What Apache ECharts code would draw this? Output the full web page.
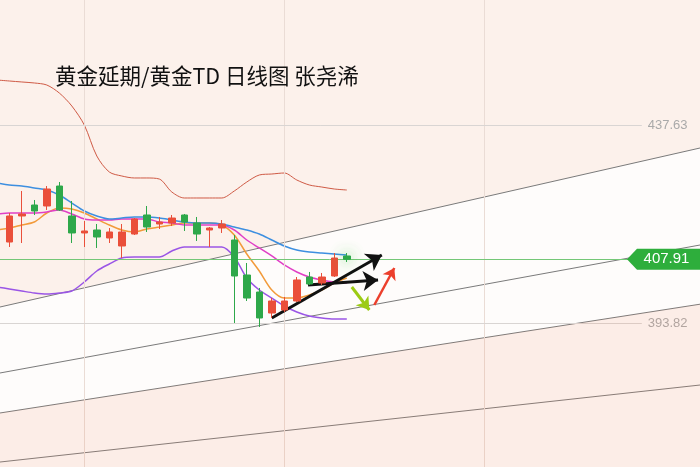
<!DOCTYPE html>
<html><head><meta charset="utf-8">
<script src="https://cdn.jsdelivr.net/npm/echarts@6/dist/echarts.min.js"></script>
<style>html,body{margin:0;padding:0;background:#fefcfb}#c{width:700px;height:467px}</style>
</head><body><div id="c"></div>
<script>
// ---- data ----
const titleText = '黄金延期/黄金TD 日线图 张尧浠';
const yMin = 361.96, yMax = 465.29;
const xMin = -0.744, xMax = 55.256;
const gridPrices = [437.63, 393.82];
const gridXs = [6, 22, 38];
const lastPrice = 407.91;
// candles: [open, close, low, high], index 0..27
const opens  = [411.74,417.50,419.93,419.71,424.13,417.50,413.74,414.40,412.63,410.86,413.51,417.72,415.73,415.95,417.72,415.95,414.40,414.84,412.19,404.44,400.68,396.03,396.70,398.69,404.00,402.67,404.22,408.65];
const closes = [417.50,417.94,418.60,423.47,418.83,413.74,414.18,412.85,413.96,413.96,416.83,415.06,416.17,417.05,416.17,413.51,414.84,415.73,404.22,399.35,394.93,398.69,398.69,403.34,402.45,404.00,408.20,407.91];
const lows   = [410.64,411.52,417.72,418.83,418.60,411.52,410.64,410.42,411.52,408.20,413.29,413.96,414.62,415.28,414.18,411.97,410.64,413.74,393.82,398.69,392.94,394.93,396.26,398.47,402.23,402.23,404.00,407.32];
const highs  = [418.16,423.03,421.04,424.13,425.02,420.82,416.39,415.73,414.84,415.73,417.05,419.71,417.28,417.72,417.94,417.28,415.06,416.61,413.29,407.10,401.57,399.35,399.58,404.00,405.11,404.89,409.31,409.31];
// indicator lines, index -1..27
const blueLine    = [424.80,424.36,424.13,423.69,423.25,422.14,420.37,418.60,417.50,416.83,417.05,417.28,417.28,417.05,416.61,416.17,415.95,415.95,415.73,415.06,414.40,413.51,412.19,410.86,409.97,409.53,409.31,409.09,408.87];
const magentaLine = [417.94,418.16,418.16,418.16,418.38,418.83,417.94,416.83,416.61,416.61,416.83,416.83,416.83,416.17,415.95,415.51,415.51,415.51,415.51,414.40,412.19,410.42,408.65,406.66,405.11,404.00,403.34,402.89,402.67];
const orangeLine  = [414.40,414.84,415.51,416.17,418.16,419.27,419.05,418.16,416.83,415.51,414.40,413.96,414.62,415.06,415.51,415.95,415.95,415.95,415.51,413.29,409.09,405.33,401.12,399.35,399.35,400.02,401.12,402.67,403.78];
const purpleLine  = [401.79,401.35,400.90,400.46,400.24,400.46,400.90,402.89,405.33,406.88,408.20,408.43,408.43,408.43,409.75,410.64,410.64,410.64,410.64,408.43,403.78,401.12,399.35,397.58,396.26,395.37,394.93,394.71,394.71];
const upperLine   = [447.59,447.37,447.15,446.93,446.48,444.71,441.84,437.63,430.77,427.23,426.35,425.91,425.91,425.68,422.81,421.48,421.48,421.48,421.48,423.03,425.02,426.57,426.79,427.01,425.46,424.36,423.91,423.47,423.25];
// channel lines: value at x = xMin and x = xMax
const channelX = [xMin, xMax];
const chan1 = [397.36, 432.54];
const chan2 = [382.76, 411.08];
const chan3 = [373.91, 397.98];
const chan4 = [363.06, 380.10];
// arrows: [x0, y0, x1, y1]
const arrowUp    = [21.0, 394.93, 29.8, 408.87];
const arrowSide  = [23.9, 402.23, 29.5, 403.34];
const arrowDown  = [27.4, 401.79, 28.8, 396.70];
const arrowRed   = [29.2, 397.80, 30.8, 405.99];

// ---- build ----
const UP = '#ea4f3a', DOWN = '#2ea84a';
const TINT = '#fcf1eb';
const candleData = opens.map((o, i) => {
  const item = { value: [i, o, closes[i], lows[i], highs[i]] };
  if (i === opens.length - 1) item.itemStyle = { shadowBlur: 14, shadowColor: 'rgba(60,200,60,0.8)' };
  return item;
});
const lineData = arr => arr.map((v, k) => [k - 1, v]);
const mkLine = (arr, color, w) => ({
  type: 'line', data: lineData(arr), symbol: 'none', smooth: 0.3, silent: true,
  lineStyle: { color, width: w }, z: 3
});
const chanSeries = (arr) => ({
  type: 'line', data: channelX.map((x, k) => [x, arr[k]]), symbol: 'none', silent: true,
  lineStyle: { color: '#7a7a7a', width: 1 }, z: 2
});
const arrowML = (a, color, w, size) => [
  { coord: [a[0], a[1]], lineStyle: { color, width: w, type: 'solid' }, symbol: 'none' },
  { coord: [a[2], a[3]], symbol: 'arrow', symbolSize: size }
];

const chart = echarts.init(document.getElementById('c'));
chart.setOption({
  animation: false,
  backgroundColor: '#fefcfb',
  title: { text: titleText, left: 50, top: 60, z: 10,
    textStyle: { fontFamily: 'Noto Sans CJK SC', fontSize: 21.5, fontWeight: 'normal', color: '#111' } },
  grid: { left: 0, right: 0, top: 0, bottom: 0 },
  xAxis: { type: 'value', min: xMin, max: xMax, show: false },
  yAxis: { type: 'value', min: yMin, max: yMax, show: false },
  series: [
    { // grid lines
      type: 'line', data: [], silent: true, z: 1,
      markLine: {
        silent: true, symbol: 'none', animation: false,
        data: [
          ...gridXs.map(x => ({ xAxis: x, lineStyle: { color: '#eadcd5', width: 1, type: 'solid' }, label: { show: false } })),
          ...gridPrices.map(p => [
            { coord: [xMin, p], lineStyle: { color: '#d9d5d3', width: 1, type: 'solid' },
              label: { show: true, position: 'end', formatter: p.toFixed(2), color: '#a9a9a9', fontSize: 13, fontFamily: 'Liberation Sans', distance: 6 } },
            { coord: [50.6, p] }
          ])
        ]
      }
    },
    chanSeries(chan1), chanSeries(chan2), chanSeries(chan3), chanSeries(chan4),
    { // current price line + tag
      type: 'line', data: [], silent: true, z: 4,
      markLine: {
        silent: true, symbol: 'none', animation: false,
        data: [[{ coord: [xMin, lastPrice], lineStyle: { color: '#74c777', width: 1, type: 'solid' }, label: { show: false } }, { coord: [52, lastPrice] }]]
      },
      markPoint: {
        silent: true, animation: false,
        data: [{ coord: [52.336, lastPrice], symbol: 'path://M0,10.5 L10,0 L73,0 L73,21 L10,21 Z', symbolSize: [73, 21],
          itemStyle: { color: '#2eae3c' },
          label: { show: true, formatter: lastPrice.toFixed(2), color: '#fff', fontSize: 15, fontFamily: 'Liberation Sans', offset: [3, 0] } }]
      }
    },
    mkLine(upperLine, '#cf5a45', 1),
    mkLine(purpleLine, '#9a55e6', 1.5),
    mkLine(orangeLine, '#f29a3a', 1.5),
    mkLine(magentaLine, '#e03fc6', 1.5),
    mkLine(blueLine, '#3d8fe0', 1.5),
    {
      type: 'candlestick', data: candleData, encode: { x: 0, y: [1, 2, 3, 4] }, barWidth: 7, z: 5, silent: true,
      itemStyle: { color: UP, color0: DOWN, borderColor: UP, borderColor0: DOWN, borderWidth: 1 }
    },
    { // arrows
      type: 'line', data: [], silent: true, z: 6,
      markLine: {
        silent: true, animation: false, label: { show: false },
        data: [
          arrowML(arrowUp, '#111', 3, 15),
          arrowML(arrowSide, '#111', 3, 15),
          arrowML(arrowDown, '#9ccb14', 3, 12),
          arrowML(arrowRed, '#ec3f2c', 2.5, 11)
        ]
      }
    }
  ]
});
// tinted zones above channel line 1 and below channel line 3, placed through the chart's scales
const px = (x, y) => chart.convertToPixel({ gridIndex: 0 }, [x, y]);
const a1 = px(channelX[0], chan1[0]), a2 = px(channelX[1], chan1[1]);
const b1 = px(channelX[0], chan3[0]), b2 = px(channelX[1], chan3[1]);
const topL = px(xMin, yMax), topR = px(xMax, yMax), botL = px(xMin, yMin), botR = px(xMax, yMin);
chart.setOption({
  graphic: [
    { type: 'polygon', z: 0, silent: true, shape: { points: [topL, topR, a2, a1] }, style: { fill: TINT } },
    { type: 'polygon', z: 100, silent: true, shape: { points: [b1, b2, botR, botL] }, style: { fill: 'rgba(238,140,100,0.13)' } }
  ]
});
</script></body></html>
